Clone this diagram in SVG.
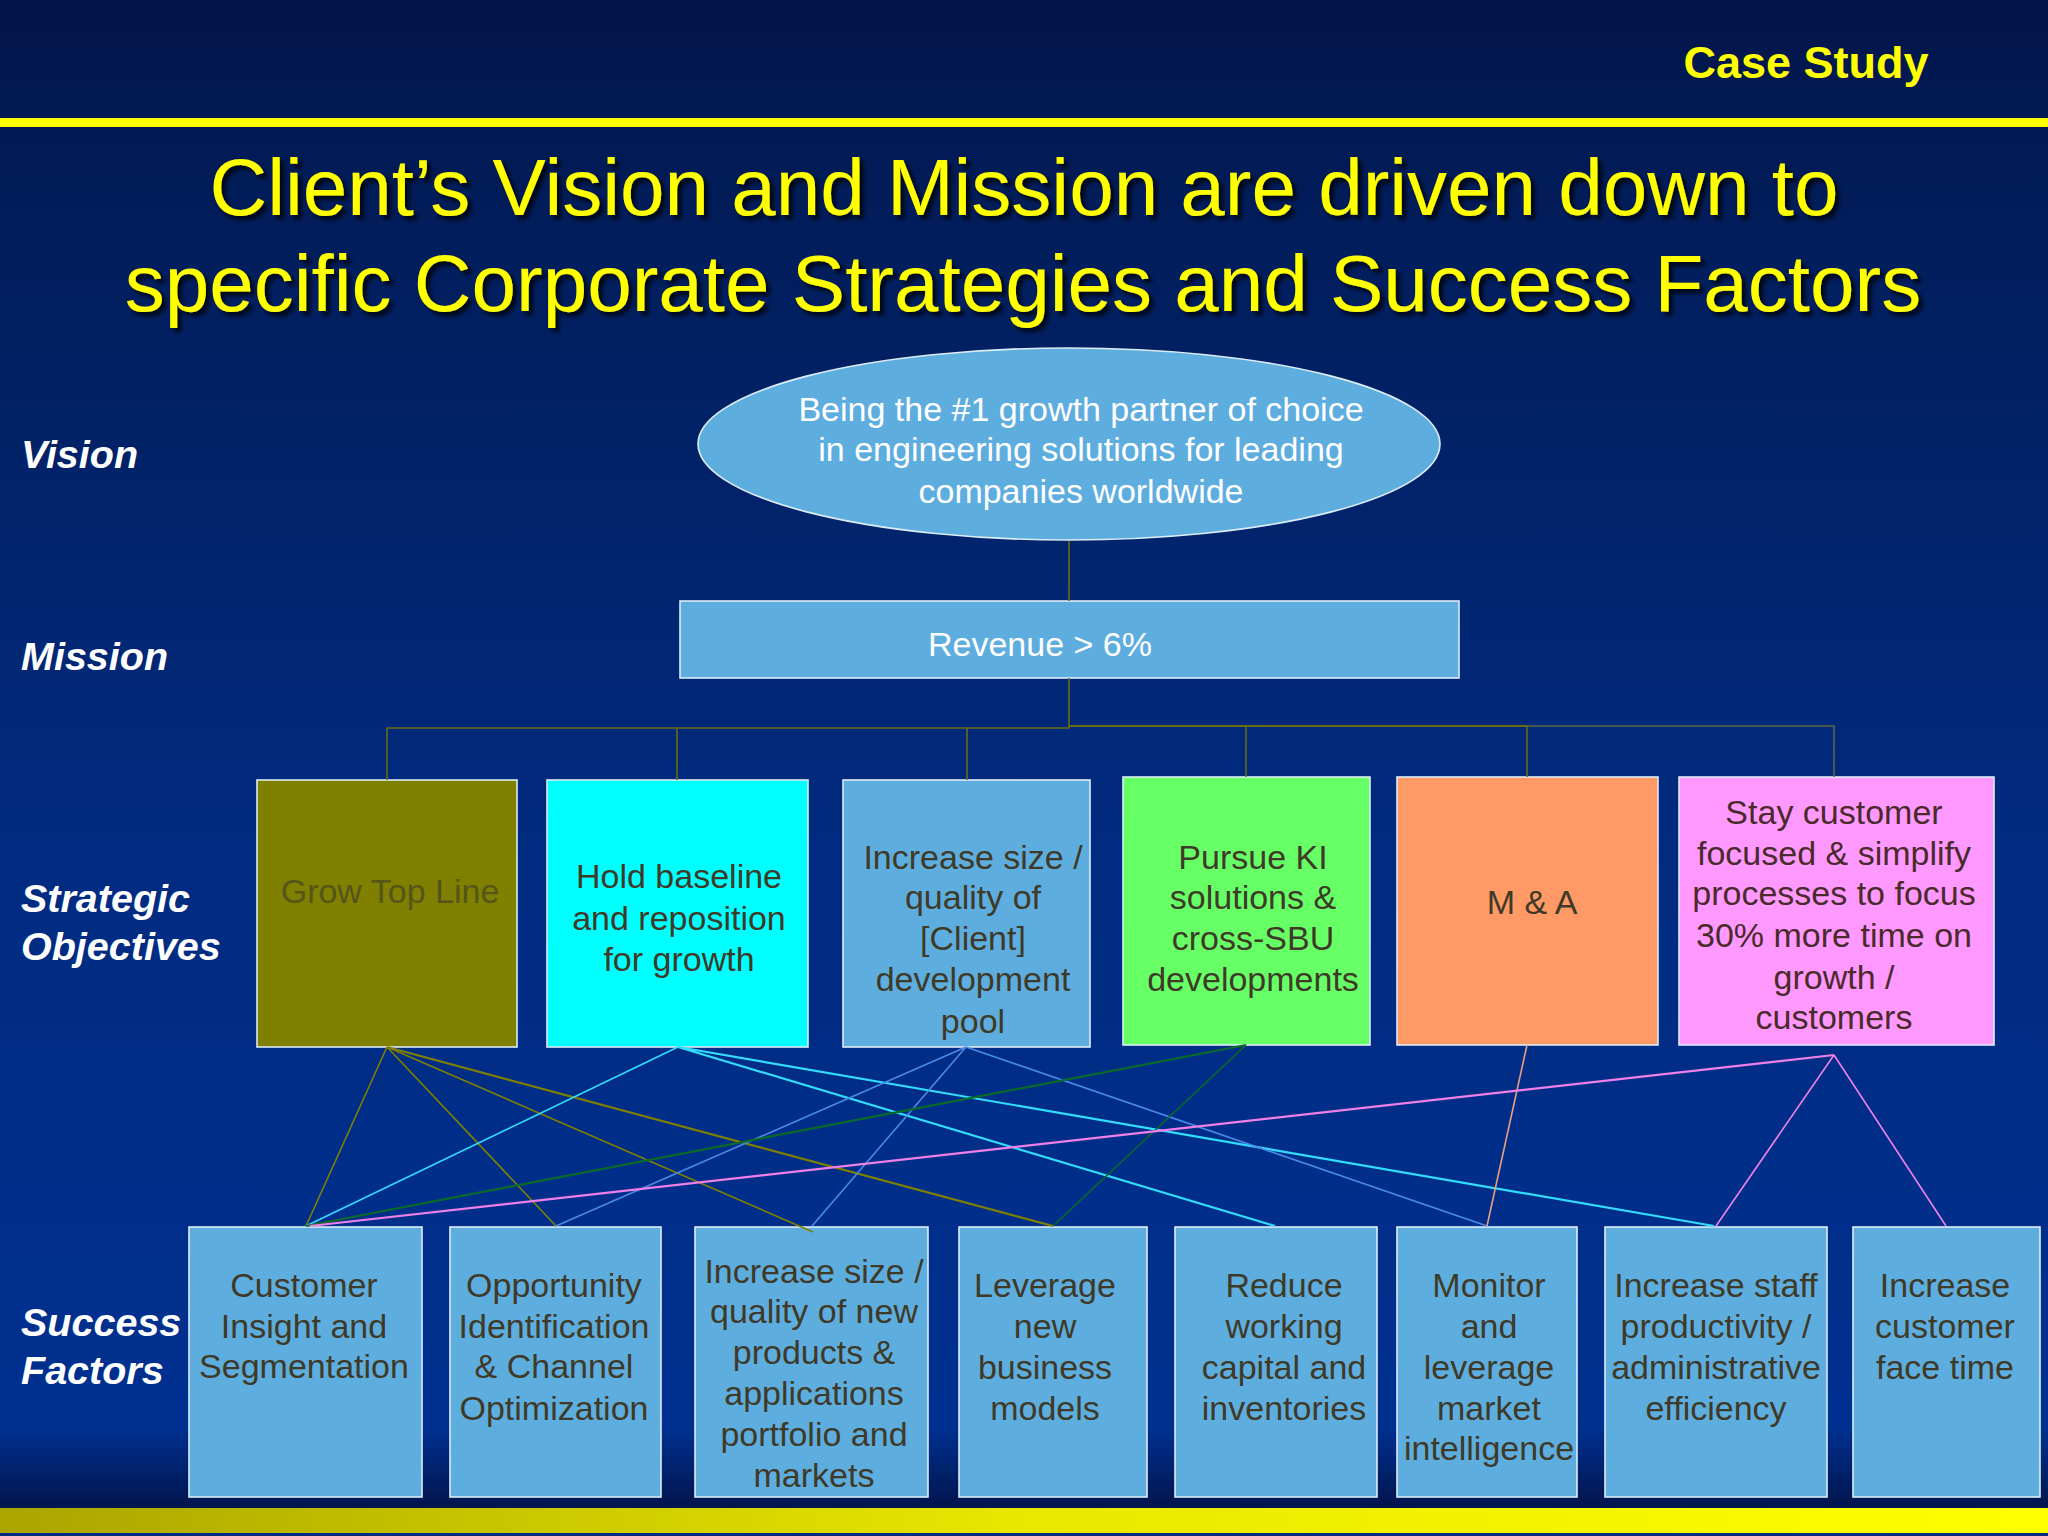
<svg xmlns="http://www.w3.org/2000/svg" width="2048" height="1536" viewBox="0 0 2048 1536">
<defs>
<linearGradient id="bg" x1="0" y1="0" x2="0" y2="1"><stop offset="0" stop-color="#03154a"/><stop offset="0.12" stop-color="#021c58"/><stop offset="0.55" stop-color="#012b80"/><stop offset="0.93" stop-color="#003090"/><stop offset="0.98" stop-color="#02164f"/><stop offset="1" stop-color="#02164f"/></linearGradient>
<linearGradient id="bar" x1="0" y1="0" x2="1" y2="0"><stop offset="0" stop-color="#aaa500"/><stop offset="0.5" stop-color="#e8e800"/><stop offset="1" stop-color="#ffff00"/></linearGradient>
<filter id="sh" x="-5%" y="-10%" width="110%" height="120%"><feDropShadow dx="4" dy="4" stdDeviation="2" flood-color="#000000" flood-opacity="0.8"/></filter>
</defs>
<style>
text{font-family:"Liberation Sans",Arial,sans-serif;text-anchor:middle}
.box{fill:#5eaddf;stroke:#dcecf6;stroke-width:1.6}
.solid{stroke:#dcecf6;stroke-width:1.6}
.t{font-size:34px;fill:#3f3a28}
.w{font-size:34px;fill:#ffffff}
.p{fill:#4a2a2a}
.lab{font-size:39.5px;font-weight:bold;font-style:italic;fill:#ffffff;text-anchor:start}
.title{font-size:80px;fill:#ffff00;filter:url(#sh)}
.c{fill:none;stroke-width:1.6}
.k{stroke-width:2.2}
.ol{stroke:#808000}.cy{stroke:#33ddff}.bl{stroke:#4a8ae8}.gr{stroke:#0a6a2a}.sa{stroke:#e8a080}.pk{stroke:#f080e8}.tr{stroke:#6b6b10}
</style>
<rect width="2048" height="1536" fill="url(#bg)"/>
<rect x="0" y="118" width="2048" height="9" fill="#ffff00"/>
<rect x="0" y="1508" width="2048" height="25" fill="url(#bar)"/>
<rect x="0" y="1533" width="2048" height="3" fill="#012a80"/>
<text x="1806" y="78" font-size="45" font-weight="bold" fill="#ffff00">Case Study</text>
<text class="title" x="1024" y="215">Client’s Vision and Mission are driven down to</text>
<text class="title" x="1023" y="311">specific Corporate Strategies and Success Factors</text>
<g id="labels">
<text class="lab" x="21" y="468">Vision</text>
<text class="lab" x="21" y="670">Mission</text>
<text class="lab" x="21" y="912">Strategic</text>
<text class="lab" x="21" y="960">Objectives</text>
<text class="lab" x="21" y="1336">Success</text>
<text class="lab" x="21" y="1384">Factors</text>
</g>
<g id="vision"><ellipse class="box" cx="1069" cy="444" rx="371" ry="96"/>
<text class="w" x="1081" y="421">Being the #1 growth partner of choice</text><text class="w" x="1081" y="461">in engineering solutions for leading</text><text class="w" x="1081" y="503">companies worldwide</text></g>
<g id="mission"><rect class="box" x="680" y="601" width="779" height="77"/><text class="w" x="1040" y="656">Revenue &gt; 6%</text></g>
<g id="so1"><rect class="solid" x="257" y="780" width="260" height="267" fill="#808000"/><text class="t" x="390" y="903" style="fill:#55551a">Grow Top Line</text></g>
<g id="so2"><rect class="solid" x="547" y="780" width="261" height="267" fill="#00ffff"/><text class="t" x="679" y="888">Hold baseline</text><text class="t" x="679" y="930">and reposition</text><text class="t" x="679" y="971">for growth</text></g>
<g id="so3"><rect class="box" x="843" y="780" width="247" height="267"/><text class="t" x="973" y="869">Increase size /</text><text class="t" x="973" y="909">quality of</text><text class="t" x="973" y="950">[Client]</text><text class="t" x="973" y="991">development</text><text class="t" x="973" y="1033">pool</text></g>
<g id="so4"><rect class="solid" x="1123" y="777" width="247" height="268" fill="#66ff66"/><text class="t" x="1253" y="869">Pursue KI</text><text class="t" x="1253" y="909">solutions &amp;</text><text class="t" x="1253" y="950">cross-SBU</text><text class="t" x="1253" y="991">developments</text></g>
<g id="so5"><rect class="solid" x="1397" y="777" width="261" height="268" fill="#ff9966"/><text class="t" x="1532" y="914">M &amp; A</text></g>
<g id="so6"><rect class="solid" x="1679" y="777" width="315" height="268" fill="#ff99ff"/><text class="t p" x="1834" y="824" style="fill:#4a2a2a">Stay customer</text><text class="t" x="1834" y="865" style="fill:#4a2a2a">focused &amp; simplify</text><text class="t" x="1834" y="905" style="fill:#4a2a2a">processes to focus</text><text class="t" x="1834" y="947" style="fill:#4a2a2a">30% more time on</text><text class="t" x="1834" y="989" style="fill:#4a2a2a">growth /</text><text class="t" x="1834" y="1029" style="fill:#4a2a2a">customers</text></g>
<g id="sf1"><rect class="box" x="189" y="1227" width="233" height="270"/><text class="t" x="304" y="1297">Customer</text><text class="t" x="304" y="1338">Insight and</text><text class="t" x="304" y="1378">Segmentation</text></g>
<g id="sf2"><rect class="box" x="450" y="1227" width="211" height="270"/><text class="t" x="554" y="1297">Opportunity</text><text class="t" x="554" y="1338">Identification</text><text class="t" x="554" y="1378">&amp; Channel</text><text class="t" x="554" y="1420">Optimization</text></g>
<g id="sf3"><rect class="box" x="695" y="1227" width="233" height="270"/><text class="t" x="814" y="1283">Increase size /</text><text class="t" x="814" y="1323">quality of new</text><text class="t" x="814" y="1364">products &amp;</text><text class="t" x="814" y="1405">applications</text><text class="t" x="814" y="1446">portfolio and</text><text class="t" x="814" y="1487">markets</text></g>
<g id="sf4"><rect class="box" x="959" y="1227" width="188" height="270"/><text class="t" x="1045" y="1297">Leverage</text><text class="t" x="1045" y="1338">new</text><text class="t" x="1045" y="1379">business</text><text class="t" x="1045" y="1420">models</text></g>
<g id="sf5"><rect class="box" x="1175" y="1227" width="202" height="270"/><text class="t" x="1284" y="1297">Reduce</text><text class="t" x="1284" y="1338">working</text><text class="t" x="1284" y="1379">capital and</text><text class="t" x="1284" y="1420">inventories</text></g>
<g id="sf6"><rect class="box" x="1397" y="1227" width="180" height="270"/><text class="t" x="1489" y="1297">Monitor</text><text class="t" x="1489" y="1338">and</text><text class="t" x="1489" y="1379">leverage</text><text class="t" x="1489" y="1420">market</text><text class="t" x="1489" y="1460">intelligence</text></g>
<g id="sf7"><rect class="box" x="1605" y="1227" width="222" height="270"/><text class="t" x="1716" y="1297">Increase staff</text><text class="t" x="1716" y="1338">productivity /</text><text class="t" x="1716" y="1379">administrative</text><text class="t" x="1716" y="1420">efficiency</text></g>
<g id="sf8"><rect class="box" x="1853" y="1227" width="187" height="270"/><text class="t" x="1945" y="1297">Increase</text><text class="t" x="1945" y="1338">customer</text><text class="t" x="1945" y="1379">face time</text></g>
<g id="connectors">
<path class="c tr" d="M1069 541V601M1069 678V728H387V780M677 728V780M967 728V780"/>
<path class="c tr k" d="M1069 726H1527"/>
<path class="c tr" d="M1527 726V777M1246 726V777"/>
<path class="c" stroke="#5a6a40" d="M1527 726H1834V777"/>
<path class="c ol" d="M387 1047L306 1226M387 1047L556 1226"/>
<path class="c ol k" d="M387 1047L1053 1226"/>
<path class="c ol" d="M387 1047L813 1232"/>
<path class="c cy" d="M678 1047L306 1226"/>
<path class="c cy k" d="M678 1047L1275 1226M678 1047L1714 1226"/>
<path class="c bl" d="M966 1047L556 1226M966 1047L812 1226M966 1047L1487 1226"/>
<path class="c gr k" d="M1246 1045L306 1226"/>
<path class="c gr" d="M1246 1045L1053 1226"/>
<path class="c sa" d="M1527 1045L1487 1226"/>
<path class="c pk k" d="M1834 1055L310 1226"/>
<path class="c pk" d="M1834 1055L1716 1226M1834 1055L1946 1226"/>
</g>
</svg>
